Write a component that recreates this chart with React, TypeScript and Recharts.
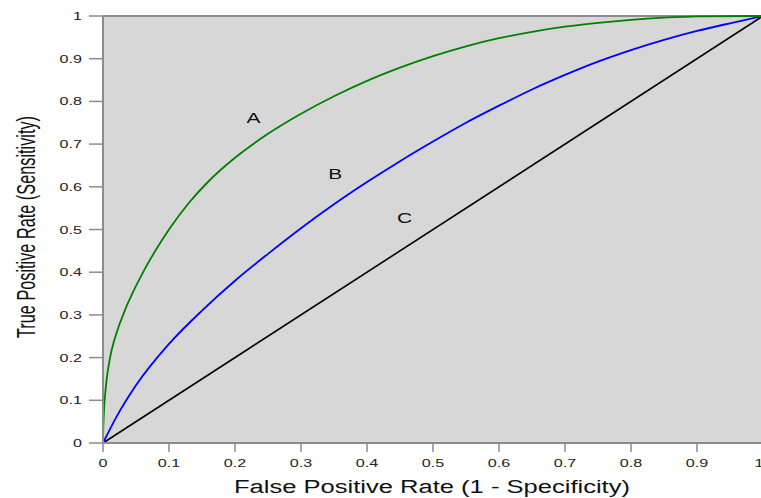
import { LineChart, Line, XAxis, YAxis, CartesianGrid, ReferenceLine, ReferenceDot } from "recharts";

// ROC curves (false positive rate -> true positive rate)
const fprA = [0, 0.0005, 0.001, 0.002, 0.003, 0.006, 0.009, 0.012, 0.016, 0.02, 0.025, 0.03, 0.037, 0.045, 0.06, 0.08, 0.1, 0.13, 0.16, 0.2, 0.25, 0.3, 0.35, 0.4, 0.45, 0.5, 0.55, 0.6, 0.65, 0.7, 0.75, 0.8, 0.85, 0.9, 1];
const tprA = [0, 0.04, 0.06, 0.09, 0.11, 0.155, 0.185, 0.21, 0.235, 0.255, 0.278, 0.298, 0.325, 0.352, 0.398, 0.452, 0.5, 0.562, 0.613, 0.668, 0.724, 0.771, 0.812, 0.848, 0.879, 0.906, 0.929, 0.948, 0.963, 0.975, 0.984, 0.991, 0.996, 0.999, 1];

const fprB = [0, 0.02, 0.05, 0.1, 0.15, 0.2, 0.25, 0.3, 0.35, 0.4, 0.45, 0.5, 0.55, 0.6, 0.65, 0.7, 0.75, 0.8, 0.85, 0.9, 0.95, 1];
const tprB = [0, 0.06, 0.135, 0.232, 0.31, 0.38, 0.443, 0.503, 0.559, 0.611, 0.66, 0.706, 0.75, 0.79, 0.828, 0.862, 0.893, 0.92, 0.944, 0.965, 0.983, 1];

const fprC = [0, 1];
const tprC = [0, 1];

const ticks = [0, 0.1, 0.2, 0.3, 0.4, 0.5, 0.6, 0.7, 0.8, 0.9, 1];

const curveLabels = ["A", "B", "C"];
const labelX = [0.228, 0.352, 0.457];
const labelY = [0.761, 0.63, 0.527];

const toPoints = (xs: number[], ys: number[]) => xs.map((x, i) => ({ x, y: ys[i] }));

const font = "'Liberation Sans', Arial, sans-serif";
const axisGray = "#8c8c8c";
const stretch = 1.4; // the reference text is widened horizontally

function XTick(props: any) {
  const { x, y, payload } = props;
  return (
    <text
      x={0}
      y={0}
      dy="0.71em"
      textAnchor="middle"
      transform={`translate(${x},${y}) scale(${stretch},1)`}
      fontSize={11.5}
      fontFamily={font}
      fill="#222"
    >
      {String(payload.value)}
    </text>
  );
}

function YTick(props: any) {
  const { x, y, payload } = props;
  return (
    <text
      x={0}
      y={0}
      dy="0.355em"
      textAnchor="end"
      transform={`translate(${x},${y}) scale(${stretch},1)`}
      fontSize={11.5}
      fontFamily={font}
      fill="#222"
    >
      {String(payload.value)}
    </text>
  );
}

function CurveName(props: any) {
  const vb = props.viewBox ?? {};
  const cx = (vb.x ?? 0) + (vb.width ?? 0) / 2;
  const cy = (vb.y ?? 0) + (vb.height ?? 0) / 2;
  return (
    <text
      x={0}
      y={0}
      dy="0.355em"
      textAnchor="middle"
      transform={`translate(${cx},${cy}) scale(${stretch},1)`}
      fontSize={15}
      fontFamily={font}
      fill="#111"
    >
      {props.value}
    </text>
  );
}

export default function App() {
  return (
    <div style={{ position: "fixed", left: 0, top: 0, width: 761, height: 498, overflow: "hidden", background: "#fff" }}>
      <LineChart width={763} height={498} margin={{ top: 16, right: 0, bottom: 0, left: 0 }}>
        <CartesianGrid horizontal={false} vertical={false} fill="#d7d7d7" />
        <XAxis
          type="number"
          dataKey="x"
          domain={[0, 1]}
          ticks={ticks}
          height={55}
          tickSize={9}
          tickMargin={7}
          tick={<XTick />}
          axisLine={{ stroke: axisGray, strokeWidth: 2 }}
          tickLine={{ stroke: axisGray, strokeWidth: 1.5 }}
          label={{
            content: () => (
              <text
                x={432}
                y={493}
                textAnchor="middle"
                fontSize={18}
                fontFamily={font}
                fill="#111"
                textLength={396}
                lengthAdjust="spacingAndGlyphs"
              >
                False Positive Rate (1 - Specificity)
              </text>
            ),
          }}
        />
        <YAxis
          type="number"
          dataKey="y"
          domain={[0, 1]}
          ticks={ticks}
          width={103}
          tickSize={14}
          tickMargin={7}
          tick={<YTick />}
          axisLine={{ stroke: axisGray, strokeWidth: 2 }}
          tickLine={{ stroke: axisGray, strokeWidth: 1.5 }}
          label={{
            content: () => (
              <text
                x={0}
                y={0}
                transform={`translate(35,227) scale(${stretch},1) rotate(-90)`}
                textAnchor="middle"
                fontSize={19}
                fontFamily={font}
                fill="#111"
                textLength={222}
                lengthAdjust="spacingAndGlyphs"
              >
                True Positive Rate (Sensitivity)
              </text>
            ),
          }}
        />
        <ReferenceLine y={1} stroke={axisGray} strokeWidth={2} />
        <Line data={toPoints(fprC, tprC)} dataKey="y" type="linear" stroke="#000" strokeWidth={1.6} dot={false} isAnimationActive={false} />
        <Line data={toPoints(fprB, tprB)} dataKey="y" type="monotone" stroke="#0000ff" strokeWidth={1.8} dot={false} isAnimationActive={false} />
        <Line data={toPoints(fprA, tprA)} dataKey="y" type="monotone" stroke="#008000" strokeWidth={1.8} dot={false} isAnimationActive={false} />
        {curveLabels.map((name, i) => (
          <ReferenceDot
            key={name}
            x={labelX[i]}
            y={labelY[i]}
            r={0}
            fill="none"
            stroke="none"
            label={{ value: name, content: <CurveName value={name} /> }}
          />
        ))}
      </LineChart>
    </div>
  );
}
